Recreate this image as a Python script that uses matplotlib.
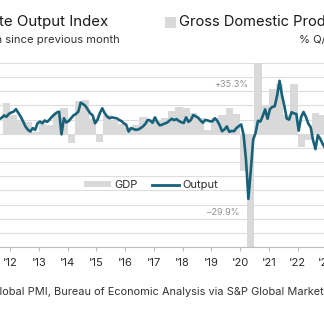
import numpy as np
import pandas as pd
import matplotlib
matplotlib.use("Agg")
import matplotlib.pyplot as plt
from matplotlib.lines import Line2D
from matplotlib.patches import Patch, Rectangle

plt.rcParams["font.family"] = ["Inter", "DejaVu Sans"]

TEAL = "#17627a"
BAR_GREY = "#d9d9d9"
TEXT = "#1a1a1a"

# Composite output index, monthly, first value is Aug 2011
pmi_start = "2011-08"
pmi_output = [
    55.2, 55.6, 56.5, 56.0, 57.0,
    57.5, 57.8, 58.7, 57.3, 56.0, 54.3, 52.5, 51.4, 50.8, 52.0, 51.4, 53.7,
    54.3, 53.7, 54.7, 54.2, 55.0, 56.0, 56.8, 57.5, 57.8, 49.8, 55.5, 54.0,
    54.5, 55.5, 56.5, 57.0, 57.8, 61.0, 60.5, 59.8, 58.5, 57.2, 56.5, 53.7,
    54.9, 57.3, 59.0, 57.3, 56.1, 55.5, 55.8, 55.6, 55.5, 54.9, 54.5, 53.7,
    53.2, 50.8, 52.0, 51.7, 51.4, 51.5, 52.0, 52.6, 53.5, 54.9, 54.7, 53.9,
    55.8, 54.1, 53.0, 53.2, 53.6, 53.9, 54.6, 55.3, 54.8, 55.2, 54.5, 54.1,
    53.8, 55.8, 54.2, 54.9, 56.6, 56.2, 55.7, 54.7, 53.9, 54.9, 54.7, 54.4,
    54.4, 55.5, 54.6, 53.0, 50.9, 51.5, 52.6, 50.7, 51.0, 50.9, 52.0, 52.7,
    53.3, 49.6, 40.9, 27.0, 37.0, 47.9, 50.3, 54.6, 54.3, 56.3, 58.6, 55.3,
    58.7, 59.5, 59.7, 63.5, 68.7, 63.7, 59.9, 55.4, 55.0, 57.6, 57.2, 57.0,
    51.1, 55.9, 57.7, 56.0, 53.6, 52.3, 47.7, 44.6, 49.5, 48.2, 46.4, 45.0,
]

# Real GDP, % q/q annualized, first value is 2011 Q3
gdp_start = "2011Q3"
gdp_qoq = [
    0.0, 4.4,
    2.6, 2.0, 1.6, 0.2,
    1.4, 1.2, 3.0, 3.6,
    -1.3, 4.6, 4.8, 2.1,
    -1.1, 2.6, 1.9, 1.4,
    0.8, 1.3, 2.4, 1.8,
    1.9, 2.2, 3.2, 3.8,
    3.6, 2.9, 2.2, 0.6,
    2.2, 2.7, 3.6, 2.8,
    -5.3, -29.9, 35.3, 3.9,
    6.3, 7.0, 2.7, 7.0,
    -1.9, -0.9, 3.0, 2.6,
]

year_ticks = list(range(2011, 2024))
year_labels = ["'%02d" % (y % 100) for y in year_ticks]

months = pd.period_range(pmi_start, periods=len(pmi_output), freq="M")
pmi_x = months.year + (months.month - 0.5) / 12
quarters = pd.period_range(gdp_start, periods=len(gdp_qoq), freq="Q")
gdp_x = quarters.year + (quarters.quarter - 0.5) / 4

fig = plt.figure(figsize=(3.24, 3.23), dpi=100)
W, H = 324, 323


def fx(px):
    return px / W


def fy(py):
    return 1 - py / H


# time axis: 28.75 px per year, Jan 2012 sits 10 px in from the left edge;
# the axes run a little past the right edge so the '23 label is drawn
PX_PER_YEAR = 28.75
x_min = 2012 - 10 / PX_PER_YEAR
x_max = 2023.05
ax_width = (x_max - x_min) * PX_PER_YEAR / W

# GDP bars on the base axes, index line on a twin so it sits on top
ax = fig.add_axes([0, fy(247), ax_width, fy(63) - fy(247)])
ax.bar(gdp_x, gdp_qoq, width=0.25, color=BAR_GREY, linewidth=0, zorder=2)
ax.set_ylim(-16, 10)
ax.set_yticks(np.arange(-16, 11, 2))
ax.grid(axis="y", color="#dddddd", linewidth=0.8)
ax.set_axisbelow(True)

ax2 = ax.twinx()
ax2.plot(pmi_x, pmi_output, color=TEAL, linewidth=1.9, solid_joinstyle="round", zorder=3)
ax2.set_ylim(10, 75)

for a in (ax, ax2):
    for side in ("left", "right", "top"):
        a.spines[side].set_visible(False)
    a.tick_params(axis="y", left=False, right=False, labelleft=False, labelright=False)
ax2.spines["bottom"].set_visible(False)
ax.spines["bottom"].set_color("#bdbdbd")
ax.spines["bottom"].set_linewidth(0.8)

ax.set_xticks(year_ticks)
ax.set_xticklabels(year_labels)
ax.tick_params(axis="x", length=3, width=0.8, color="#bdbdbd", labelsize=8,
               labelcolor="#2b2b2b", pad=5)
# set after the ticks, otherwise set_xticks widens the range to 2011
ax.set_xlim(x_min, x_max)

# values of the two bars that run off the scale
ax.text(2020.28, 6.9, "+35.3%", ha="right", va="center", fontsize=6.5, color="#8f8f8f")
ax.text(2019.965, -11.1, "\u201329.9%", ha="right", va="center", fontsize=6.5, color="#8f8f8f")

handles = [
    Patch(facecolor=BAR_GREY, edgecolor="none", label="GDP"),
    Line2D([], [], color=TEAL, linewidth=2, label="Output"),
]
fig.legend(handles=handles, loc="center", bbox_to_anchor=(fx(151), fy(185)), ncol=2,
           frameon=False, fontsize=8, handlelength=2.4, handleheight=0.45,
           handletextpad=0.3, columnspacing=1.3, labelcolor="#2b2b2b")

# headers
fig.text(fx(108), fy(22), "S&P Global Flash US Composite Output Index", ha="right",
         va="center", fontsize=10.8, color=TEXT)
fig.text(fx(120), fy(40), "sa, >50 = growth since previous month", ha="right",
         va="center", fontsize=8.1, color="#333333")
fig.patches.append(Rectangle((fx(165), fy(28)), 11 / W, 11 / H, transform=fig.transFigure,
                             facecolor=BAR_GREY, edgecolor="none"))
fig.text(fx(179), fy(22), "Gross Domestic Product", ha="left", va="center",
         fontsize=10.6, color=TEXT)
fig.text(fx(299), fy(40), "% Q/Q annualized", ha="left", va="center",
         fontsize=8.1, color="#333333")

fig.text(fx(-82), fy(292), "Sources: S&P Global PMI, Bureau of Economic Analysis via "
         "S&P Global Market Intelligence.", ha="left", va="center", fontsize=7.9,
         color="#333333")

fig.savefig("out.png", dpi=100)
